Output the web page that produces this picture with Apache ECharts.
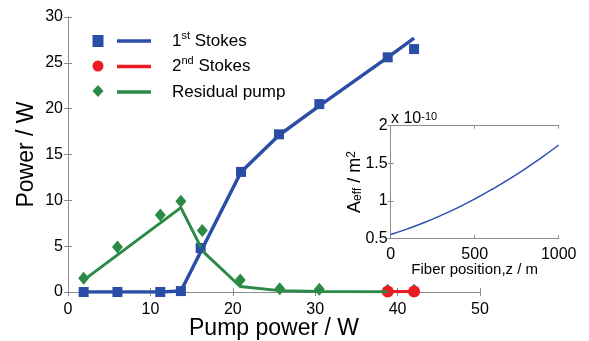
<!DOCTYPE html>
<html>
<head>
<meta charset="utf-8">
<script src="https://cdn.jsdelivr.net/npm/echarts@6/dist/echarts.min.js"></script>
<style>
  html, body { margin: 0; padding: 0; background: #fff; }
  #chart { width: 589px; height: 341px; }
</style>
</head>
<body>
<div id="chart"></div>
<script>
// Measured output powers versus pump power (W)
const stokes1X = [1.9, 6.0, 11.2, 13.7, 16.1, 21.0, 25.6, 30.5, 38.8, 42.0];
const stokes1Y = [0, 0, 0, 0.1, 4.8, 13.1, 17.2, 20.5, 25.6, 26.5];
const stokes1FitX = [1.9, 6.0, 11.2, 13.7, 21.0, 25.6, 30.5, 38.8, 42.0];
const stokes1FitY = [0, 0, 0, 0.1, 13.1, 17.1, 20.3, 25.6, 27.7];

const stokes2X = [38.8, 42.0];
const stokes2Y = [0.05, 0.05];
const stokes2FitX = [38.8, 42.0];
const stokes2FitY = [0.05, 0.05];

const pumpX = [1.9, 6.0, 11.2, 13.7, 16.3, 20.9, 25.7, 30.5, 38.8, 42.0];
const pumpY = [1.5, 4.9, 8.4, 9.9, 6.7, 1.3, 0.35, 0.3, 0.2, 0.2];
const pumpFitX = [1.9, 13.7, 16.4, 20.9, 25.7, 30.5, 38.8, 42.0];
const pumpFitY = [1.3, 9.2, 4.4, 0.6, 0.15, 0.05, 0.02, 0.02];

// Effective mode area along the fiber (units of 1e-10 m^2)
const fiberZ = [0, 100, 200, 300, 400, 500, 600, 700, 800, 900, 1000];
const aeff = [0.553, 0.627, 0.711, 0.806, 0.910, 1.024, 1.148, 1.281, 1.425, 1.578, 1.742];

const legendNames = ['1st Stokes', '2nd Stokes', 'Residual pump'];
const legendLabels = ['1{sup|st} Stokes', '2{sup|nd} Stokes', 'Residual pump'];

const FONT = "'Liberation Sans', Arial, Helvetica, sans-serif";
const BLUE = '#2a4ea6';
const RED = '#ec1c24';
const GREEN = '#2b8a46';
const AXIS = '#8c8c8c';

const pairs = (xs, ys) => xs.map((x, i) => [x, ys[i]]);

const axisLine = { show: true, lineStyle: { color: AXIS, width: 1 } };
const tickIn = (len) => ({ show: true, inside: true, length: len, lineStyle: { color: AXIS, width: 1 } });
const labelStyle = (size, margin) => ({ color: '#000', fontFamily: FONT, fontSize: size, margin: margin });
const noLabel = { show: false };

const chart = echarts.init(document.getElementById('chart'), null, { renderer: 'canvas' });

chart.setOption({
  animation: false,
  backgroundColor: '#fff',
  textStyle: { fontFamily: FONT },
  grid: [
    { left: 68, right: 109, top: 17, bottom: 49, containLabel: false, outerBoundsMode: 'none' },
    { left: 390.7, right: 30.3, top: 125.6, bottom: 102.6, containLabel: false, outerBoundsMode: 'none' }
  ],
  legend: [
    {
      orient: 'vertical', left: 92.5, top: 35, padding: 0,
      itemWidth: 11, itemHeight: 12, itemGap: 13.5,
      selectedMode: false,
      formatter: () => '',
      textStyle: { fontSize: 11, lineHeight: 11 },
      data: [
        { name: 'pts-stokes1', icon: 'rect' },
        { name: 'pts-stokes2', icon: 'circle' },
        { name: 'pts-pump', icon: 'diamond' }
      ]
    },
    {
      orient: 'vertical', left: 117, top: 30, padding: 0,
      itemWidth: 34, itemHeight: 3.5, itemGap: 3.5,
      icon: 'rect', selectedMode: false,
      data: legendNames,
      formatter: (name) => legendLabels[legendNames.indexOf(name)],
      textStyle: {
        fontFamily: FONT, fontSize: 17, color: '#000', lineHeight: 22, padding: [0, 0, 0, 16],
        rich: { sup: { fontFamily: FONT, fontSize: 11, color: '#000', verticalAlign: 'top', lineHeight: 12 } }
      }
    }
  ],
  xAxis: [
    {
      gridIndex: 0, type: 'value', position: 'bottom', min: 0, max: 50, interval: 10,
      axisLine: axisLine, axisTick: tickIn(4), splitLine: { show: false },
      axisLabel: labelStyle(16, 10),
      name: 'Pump power / W', nameLocation: 'middle', nameGap: 25, nameMoveOverlap: false,
      nameTextStyle: { fontFamily: FONT, fontSize: 23, color: '#000' }
    },
    {
      gridIndex: 0, type: 'value', position: 'top', min: 0, max: 50, interval: 10,
      axisLine: axisLine, axisTick: tickIn(4), splitLine: { show: false }, axisLabel: noLabel
    },
    {
      gridIndex: 1, type: 'value', position: 'bottom', min: 0, max: 1000, interval: 500, z: 60,
      axisLine: axisLine, axisTick: tickIn(3), splitLine: { show: false },
      axisLabel: Object.assign(labelStyle(16, 8), { formatter: (v) => String(v) }),
      name: 'Fiber position,z / m', nameLocation: 'middle', nameGap: 24, nameMoveOverlap: false,
      nameTextStyle: { fontFamily: FONT, fontSize: 15, color: '#000' }
    },
    {
      gridIndex: 1, type: 'value', position: 'top', min: 0, max: 1000, interval: 500, z: 60,
      axisLine: axisLine, axisTick: tickIn(3), splitLine: { show: false }, axisLabel: noLabel
    }
  ],
  yAxis: [
    {
      gridIndex: 0, type: 'value', position: 'left', min: 0, max: 30, interval: 5,
      axisLine: axisLine, axisTick: tickIn(4), splitLine: { show: false },
      axisLabel: labelStyle(16, 5),
      name: 'Power / W', nameLocation: 'middle', nameGap: 30, nameMoveOverlap: false,
      nameTextStyle: { fontFamily: FONT, fontSize: 23, color: '#000' }
    },
    {
      gridIndex: 0, type: 'value', position: 'right', min: 0, max: 30, interval: 5,
      axisLine: axisLine, axisTick: tickIn(4), splitLine: { show: false }, axisLabel: noLabel
    },
    {
      gridIndex: 1, type: 'value', position: 'left', min: 0.5, max: 2, interval: 0.5, z: 60,
      axisLine: axisLine, axisTick: tickIn(3), splitLine: { show: false },
      axisLabel: labelStyle(16, 3),
      name: 'A{sub|eff} / m{sup|2}', nameLocation: 'middle', nameGap: 27, nameMoveOverlap: false,
      nameTextStyle: {
        fontFamily: FONT, fontSize: 18, color: '#000',
        rich: {
          sub: { fontFamily: FONT, fontSize: 12, color: '#000', verticalAlign: 'bottom' },
          sup: { fontFamily: FONT, fontSize: 12, color: '#000', verticalAlign: 'top' }
        }
      }
    },
    {
      gridIndex: 1, type: 'value', position: 'right', min: 0.5, max: 2, interval: 0.5, z: 60,
      axisLine: axisLine, axisTick: tickIn(3), splitLine: { show: false }, axisLabel: noLabel
    }
  ],
  graphic: [
    {
      type: 'rect', z: 50, silent: true,
      shape: { x: 335, y: 100, width: 254, height: 180 },
      style: { fill: '#fff' }
    },
    {
      type: 'text', z: 62, x: 391, y: 119,
      style: {
        text: 'x 10{sup|-10}', fill: '#000',
        font: "16px 'Liberation Sans', Arial, sans-serif",
        verticalAlign: 'middle',
        rich: { sup: { fontSize: 11, fontFamily: FONT, fill: '#000', verticalAlign: 'top' } }
      }
    }
  ],
  series: [
    {
      name: 'Residual pump', type: 'line', xAxisIndex: 0, yAxisIndex: 0,
      data: pairs(pumpFitX, pumpFitY), showSymbol: false, symbol: 'none',
      lineStyle: { color: GREEN, width: 3 }, itemStyle: { color: GREEN }
    },
    {
      name: 'pts-pump', type: 'scatter', xAxisIndex: 0, yAxisIndex: 0,
      data: pairs(pumpX, pumpY), symbol: 'diamond', symbolSize: [11, 13],
      itemStyle: { color: GREEN, opacity: 1 }
    },
    {
      name: '1st Stokes', type: 'line', xAxisIndex: 0, yAxisIndex: 0,
      data: pairs(stokes1FitX, stokes1FitY), showSymbol: false, symbol: 'none',
      lineStyle: { color: BLUE, width: 3.5 }, itemStyle: { color: BLUE }
    },
    {
      name: 'pts-stokes1', type: 'scatter', xAxisIndex: 0, yAxisIndex: 0,
      data: pairs(stokes1X, stokes1Y), symbol: 'rect', symbolSize: 10,
      itemStyle: { color: BLUE, opacity: 1 }
    },
    {
      name: '2nd Stokes', type: 'line', xAxisIndex: 0, yAxisIndex: 0,
      data: pairs(stokes2FitX, stokes2FitY), showSymbol: false, symbol: 'none',
      lineStyle: { color: RED, width: 3 }, itemStyle: { color: RED }
    },
    {
      name: 'pts-stokes2', type: 'scatter', xAxisIndex: 0, yAxisIndex: 0,
      data: pairs(stokes2X, stokes2Y), symbol: 'circle', symbolSize: 12,
      itemStyle: { color: RED, opacity: 1 }
    },
    {
      name: 'Aeff', type: 'line', xAxisIndex: 2, yAxisIndex: 2, z: 61,
      data: pairs(fiberZ, aeff), showSymbol: false, symbol: 'none', smooth: true,
      lineStyle: { color: '#2f4fb0', width: 1.5 }
    }
  ]
});
</script>
</body>
</html>
